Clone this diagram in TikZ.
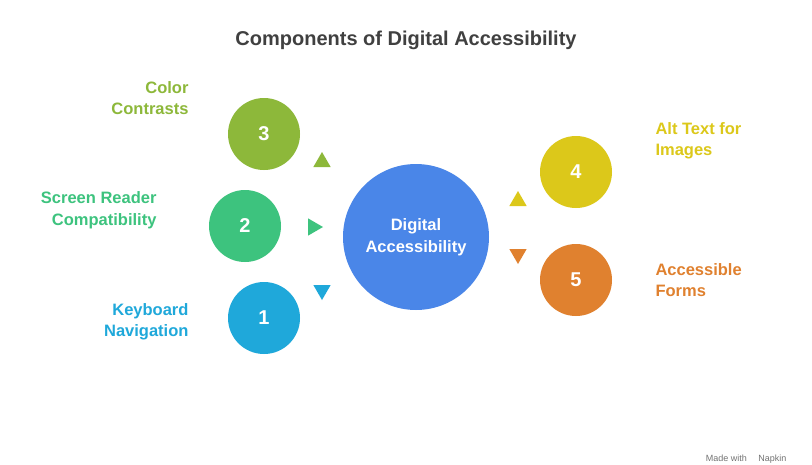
\documentclass[tikz,border=0pt]{standalone}
\usepackage{fontspec}
\setmainfont{Liberation Sans}
\usetikzlibrary{positioning,shapes.geometric}
\definecolor{cgreen}{HTML}{8DB83A}
\definecolor{cmint}{HTML}{3DC37E}
\definecolor{ccyan}{HTML}{1FA8DA}
\definecolor{cblue}{HTML}{4A86E8}
\definecolor{cyel}{HTML}{DCC81A}
\definecolor{corange}{HTML}{E0812F}
\tikzset{
  numcirc/.style={circle,fill=#1,minimum size=72pt,inner sep=0pt,text=white,font=\bfseries\fontsize{20}{22}\selectfont},
  tri/.style={isosceles triangle,isosceles triangle apex angle=60,fill=#1,minimum size=15pt,inner sep=0pt},
  lab/.style={text=#1,font=\bfseries\fontsize{16.5}{21.5}\selectfont}
}
\begin{document}
\begin{tikzpicture}[x=1pt,y=-1pt]
  \useasboundingbox[fill=white] (0,0) rectangle (812,464);
  \node[font=\bfseries\fontsize{20}{22}\selectfont,text=black!75] (title) at (406,40) {Components of Digital Accessibility};
  % centre
  \node[circle,fill=cblue,minimum size=146pt,text=white,align=center,font=\bfseries\fontsize{16.5}{21.5}\selectfont] (hub) at (416,237) {Digital\\Accessibility};
  % left side
  \node[numcirc=cgreen] (c3) at (264,134) {3};
  \node[numcirc=cmint] (c2) at (245,226) {2};
  \node[numcirc=ccyan] (c1) at (264,318) {1};
  \node[tri=cgreen,shape border rotate=90] (t3) at (322,162) {};
  \node[tri=cmint,shape border rotate=0] (t2) at (313,227) {};
  \node[tri=ccyan,shape border rotate=-90] (t1) at (322,290) {};
  \node[lab=cgreen,align=right,anchor=east] (l3) at (192,98) {Color\\Contrasts};
  \node[lab=cmint,align=right,anchor=east] (l2) at (160,210) {Screen Reader\\Compatibility};
  \node[lab=ccyan,align=right,anchor=east] (l1) at (192,322) {Keyboard\\Navigation};
  % right side
  \node[numcirc=cyel] (c4) at (576,172) {4};
  \node[numcirc=corange] (c5) at (576,280) {5};
  \node[tri=cyel,shape border rotate=90] (t4) at (518,201) {};
  \node[tri=corange,shape border rotate=-90] (t5) at (518,254) {};
  \node[lab=cyel,align=left,anchor=west] (l4) at (652,141) {Alt Text for\\Images};
  \node[lab=corange,align=left,anchor=west] (l5) at (652,280) {Accessible\\Forms};
  \node[anchor=east,text=black!55,font=\fontsize{9}{10}\selectfont] (mark) at (790,459) {Made with \quad Napkin};
\end{tikzpicture}
\end{document}
